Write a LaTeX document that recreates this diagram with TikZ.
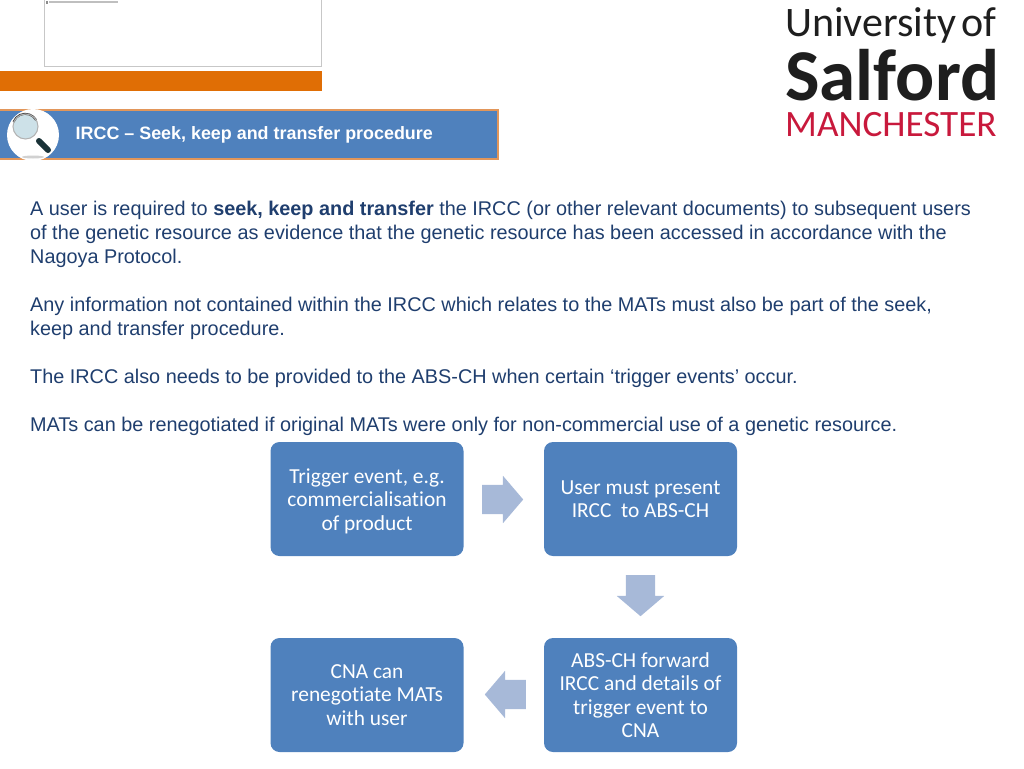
\documentclass[tikz,border=0pt]{standalone}
\usepackage{fontspec}
\setmainfont{Liberation Sans}
\newfontfamily\boxfont[Ligatures=CommonOff]{Carlito}
\usetikzlibrary{shapes.arrows}
\definecolor{boxblue}{RGB}{79,129,189}
\definecolor{arrowblue}{RGB}{167,185,216}
\definecolor{bodyblue}{RGB}{31,62,110}
\definecolor{barorange}{RGB}{224,110,5}
\definecolor{bandedge}{RGB}{226,150,90}
\definecolor{logored}{RGB}{200,25,60}
\definecolor{logoblack}{RGB}{30,30,30}
\definecolor{lensblue}{RGB}{205,225,232}
\definecolor{handledark}{RGB}{25,50,55}
\tikzset{
  stepbox/.style={rectangle, rounded corners=9pt, fill=boxblue, text=white, align=center,
    minimum width=193pt, minimum height=114pt, inner sep=0pt,
    font=\boxfont\fontsize{21.4}{23.4}\selectfont},
  flowarrow/.style={single arrow, fill=arrowblue, minimum height=41pt, anchor=tail,
    inner xsep=0pt, inner ysep=14.5pt, single arrow head extend=9pt, single arrow tip angle=99},
  para/.style={anchor=north west, align=left, inner sep=0pt, text=bodyblue,
    font=\fontsize{19.84}{24}\selectfont},
  logotext/.style={anchor=base west, inner sep=0pt, text depth=0pt},
}
\begin{document}
\begin{tikzpicture}[x=1pt, y=-1pt]
      \useasboundingbox (0,0) rectangle (1024,768);
      %
      \draw[draw=black!22, line width=1pt] (44.5,0) rectangle (321.5,66.5); % placeholder frame
      \fill[black!45] (45.5,1) rectangle (48,4);
      \fill[black!25] (49,1.4) rectangle (118,2.6);
      %
      \fill[barorange] (0,71) rectangle (322,91);                % orange bar
      \draw[draw=bandedge, fill=boxblue, line width=1.6pt] (-2,110) rectangle (498,159); % title band
      \node[anchor=base west, inner sep=0pt, text=white, font=\bfseries\fontsize{17.9}{20}\selectfont]
        (title) at (75.5,139) {IRCC -- Seek, keep and transfer procedure};
      %
      \fill[white] (33,135) circle (26);                         % magnifier
      \fill[black!18] (33,157) ellipse (11 and 1.5);
      \draw[handledark, line width=6pt, line cap=round] (39,141) -- (48,150);
      \fill[lensblue] (25.5,126.5) circle (12.5);
      \draw[black!75, line width=2pt] (13.5,122) arc[start angle=200, end angle=330, radius=12.5];
      \draw[black!30, line width=1pt] (25.5,126.5) circle (12.5);
      %
      \node[logotext, text=logoblack, font=\boxfont\fontsize{42}{42}\selectfont]
        (logotop) at (785,37) {University\kern-0.1em\ of};
      \node[logotext, text=logoblack, font=\boxfont\bfseries\fontsize{73}{73}\selectfont]
        (logomid) at (785,100) {Salford};
      \node[logotext, text=logored, font=\boxfont\fontsize{37.2}{37}\selectfont]
        (logobot) at (785,136.5) {MANCHESTER};
      %
      \node[para] (intro) at (30,200.5) {A user is required to \textbf{seek, keep and transfer} the IRCC (or other relevant documents) to subsequent users\\
        of the genetic resource as evidence that the genetic resource has been accessed in accordance with the\\
        Nagoya Protocol.};
      \node[para] (mats) at (30,296.5) {Any information not contained within the IRCC which relates to the MATs must also be part of the seek,\\
        keep and transfer procedure.};
      \node[para] (abs) at (30,368.5) {The IRCC also needs to be provided to the ABS-CH when certain ‘trigger events’ occur.};
      \node[para] (reneg) at (30,416.5) {MATs can be renegotiated if original MATs were only for non-commercial use of a genetic resource.};
      %
      \node[stepbox] (trigger) at (367,499) {\rule{0pt}{19pt}Trigger event, e.g.\\commercialisation\\of product};   % top row
      \node[stepbox] (present) at (640.5,499) {User must present\\IRCC\ \ to ABS-CH};
      %
      \node[stepbox] (cna) at (367,695) {CNA can\\renegotiate MATs\\with user};                     % bottom row
      \node[stepbox] (forward) at (640.5,695) {ABS-CH forward\\IRCC and details of\\trigger event to\\CNA};
      %
      \node[flowarrow] (arrowa) at (482,499.5) {};                  % between the boxes
      \node[flowarrow, rotate=270] (arrowb) at (640.5,575) {};
      \node[flowarrow, rotate=180] (arrowc) at (526,694.5) {};
      %
    \end{tikzpicture}
\end{document}
